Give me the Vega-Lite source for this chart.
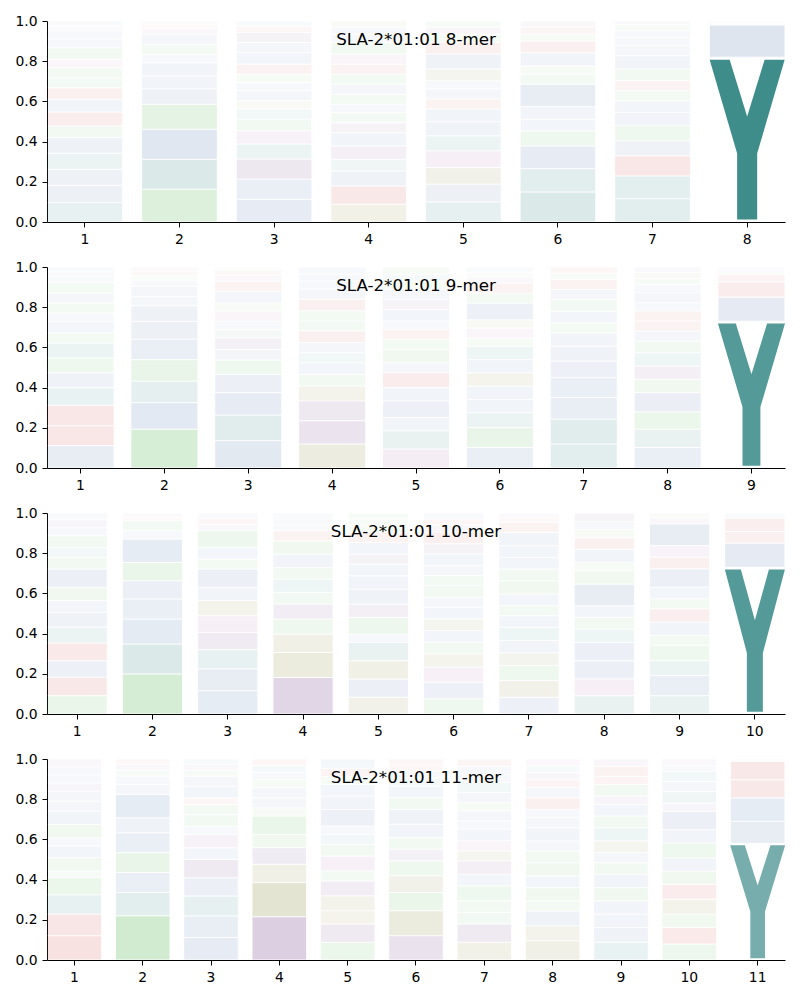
{
"$schema": "https://vega.github.io/schema/vega-lite/v6.json",
"background": "white",
"padding": {"left": 14, "top": 14, "right": 5, "bottom": 5},
"config": {
  "view": {"stroke": null},
  "font": "DejaVu Sans",
  "axis": {"domainColor": "#000", "tickColor": "#000", "labelColor": "#000", "labelFontSize": 13.9, "labelFont": "DejaVu Sans", "tickSize": 5, "labelPadding": 5, "grid": false, "domainWidth": 1, "tickWidth": 1},
  "title": {"fontSize": 16.7, "font": "DejaVu Sans", "fontWeight": "normal", "color": "#000", "anchor": "middle", "frame": "group", "offset": -35, "baseline": "alphabetic"}
},
"bounds": "flush",
"spacing": 45,
"data": {"values": [
{"p":1,"x":1,"a":"Y","h":0.096},{"p":1,"x":1,"a":"M","h":0.086},{"p":1,"x":1,"a":"F","h":0.08},{"p":1,"x":1,"a":"H","h":0.08},{"p":1,"x":1,"a":"I","h":0.078},{"p":1,"x":1,"a":"T","h":0.058},{"p":1,"x":1,"a":"R","h":0.069},{"p":1,"x":1,"a":"V","h":0.063},{"p":1,"x":1,"a":"K","h":0.058},{"p":1,"x":1,"a":"Q","h":0.05},{"p":1,"x":1,"a":"S","h":0.05},{"p":1,"x":1,"a":"C","h":0.042},{"p":1,"x":1,"a":"N","h":0.057},{"p":1,"x":1,"a":"A","h":0.043},{"p":1,"x":1,"a":"L","h":0.04},{"p":1,"x":1,"a":"E","h":0.025},{"p":1,"x":1,"a":"W","h":0.025},
{"p":1,"x":2,"a":"T","h":0.163},{"p":1,"x":2,"a":"Y","h":0.149},{"p":1,"x":2,"a":"F","h":0.149},{"p":1,"x":2,"a":"S","h":0.124},{"p":1,"x":2,"a":"M","h":0.078},{"p":1,"x":2,"a":"V","h":0.063},{"p":1,"x":2,"a":"A","h":0.066},{"p":1,"x":2,"a":"I","h":0.041},{"p":1,"x":2,"a":"Q","h":0.05},{"p":1,"x":2,"a":"W","h":0.05},{"p":1,"x":2,"a":"E","h":0.03},{"p":1,"x":2,"a":"K","h":0.02},{"p":1,"x":2,"a":"L","h":0.017},
{"p":1,"x":3,"a":"W","h":0.113},{"p":1,"x":3,"a":"F","h":0.1},{"p":1,"x":3,"a":"D","h":0.1},{"p":1,"x":3,"a":"Y","h":0.075},{"p":1,"x":3,"a":"C","h":0.066},{"p":1,"x":3,"a":"N","h":0.058},{"p":1,"x":3,"a":"H","h":0.05},{"p":1,"x":3,"a":"G","h":0.041},{"p":1,"x":3,"a":"A","h":0.05},{"p":1,"x":3,"a":"I","h":0.041},{"p":1,"x":3,"a":"S","h":0.041},{"p":1,"x":3,"a":"R","h":0.05},{"p":1,"x":3,"a":"M","h":0.058},{"p":1,"x":3,"a":"V","h":0.05},{"p":1,"x":3,"a":"E","h":0.05},{"p":1,"x":3,"a":"K","h":0.03},{"p":1,"x":3,"a":"L","h":0.027},
{"p":1,"x":4,"a":"P","h":0.088},{"p":1,"x":4,"a":"K","h":0.091},{"p":1,"x":4,"a":"V","h":0.075},{"p":1,"x":4,"a":"H","h":0.058},{"p":1,"x":4,"a":"E","h":0.066},{"p":1,"x":4,"a":"I","h":0.066},{"p":1,"x":4,"a":"D","h":0.05},{"p":1,"x":4,"a":"T","h":0.05},{"p":1,"x":4,"a":"L","h":0.041},{"p":1,"x":4,"a":"N","h":0.05},{"p":1,"x":4,"a":"W","h":0.05},{"p":1,"x":4,"a":"Q","h":0.05},{"p":1,"x":4,"a":"R","h":0.05},{"p":1,"x":4,"a":"C","h":0.05},{"p":1,"x":4,"a":"S","h":0.058},{"p":1,"x":4,"a":"M","h":0.04},{"p":1,"x":4,"a":"A","h":0.035},{"p":1,"x":4,"a":"G","h":0.032},
{"p":1,"x":5,"a":"H","h":0.1},{"p":1,"x":5,"a":"F","h":0.088},{"p":1,"x":5,"a":"P","h":0.083},{"p":1,"x":5,"a":"C","h":0.083},{"p":1,"x":5,"a":"Y","h":0.075},{"p":1,"x":5,"a":"W","h":0.07},{"p":1,"x":5,"a":"V","h":0.063},{"p":1,"x":5,"a":"R","h":0.05},{"p":1,"x":5,"a":"I","h":0.05},{"p":1,"x":5,"a":"L","h":0.041},{"p":1,"x":5,"a":"G","h":0.058},{"p":1,"x":5,"a":"A","h":0.075},{"p":1,"x":5,"a":"K","h":0.058},{"p":1,"x":5,"a":"S","h":0.04},{"p":1,"x":5,"a":"E","h":0.035},{"p":1,"x":5,"a":"Q","h":0.031},
{"p":1,"x":6,"a":"H","h":0.149},{"p":1,"x":6,"a":"Y","h":0.116},{"p":1,"x":6,"a":"F","h":0.113},{"p":1,"x":6,"a":"Q","h":0.075},{"p":1,"x":6,"a":"W","h":0.058},{"p":1,"x":6,"a":"I","h":0.063},{"p":1,"x":6,"a":"M","h":0.111},{"p":1,"x":6,"a":"T","h":0.05},{"p":1,"x":6,"a":"N","h":0.041},{"p":1,"x":6,"a":"V","h":0.066},{"p":1,"x":6,"a":"R","h":0.058},{"p":1,"x":6,"a":"S","h":0.035},{"p":1,"x":6,"a":"K","h":0.035},{"p":1,"x":6,"a":"D","h":0.03},
{"p":1,"x":7,"a":"Y","h":0.116},{"p":1,"x":7,"a":"H","h":0.113},{"p":1,"x":7,"a":"K","h":0.1},{"p":1,"x":7,"a":"F","h":0.075},{"p":1,"x":7,"a":"Q","h":0.075},{"p":1,"x":7,"a":"L","h":0.066},{"p":1,"x":7,"a":"I","h":0.058},{"p":1,"x":7,"a":"T","h":0.05},{"p":1,"x":7,"a":"R","h":0.05},{"p":1,"x":7,"a":"N","h":0.058},{"p":1,"x":7,"a":"A","h":0.066},{"p":1,"x":7,"a":"M","h":0.05},{"p":1,"x":7,"a":"V","h":0.04},{"p":1,"x":7,"a":"W","h":0.035},{"p":1,"x":7,"a":"S","h":0.03},{"p":1,"x":7,"a":"D","h":0.018},
{"p":1,"x":8,"a":"Y","h":0.82},{"p":1,"x":8,"a":"F","h":0.16},{"p":1,"x":8,"a":"W","h":0.01},{"p":1,"x":8,"a":"M","h":0.01},
{"p":2,"x":1,"a":"M","h":0.111},{"p":2,"x":1,"a":"R","h":0.099},{"p":2,"x":1,"a":"K","h":0.102},{"p":2,"x":1,"a":"Y","h":0.088},{"p":2,"x":1,"a":"F","h":0.074},{"p":2,"x":1,"a":"S","h":0.074},{"p":2,"x":1,"a":"H","h":0.074},{"p":2,"x":1,"a":"T","h":0.05},{"p":2,"x":1,"a":"V","h":0.058},{"p":2,"x":1,"a":"I","h":0.041},{"p":2,"x":1,"a":"Q","h":0.05},{"p":2,"x":1,"a":"A","h":0.05},{"p":2,"x":1,"a":"N","h":0.05},{"p":2,"x":1,"a":"L","h":0.03},{"p":2,"x":1,"a":"E","h":0.025},{"p":2,"x":1,"a":"W","h":0.024},
{"p":2,"x":2,"a":"T","h":0.193},{"p":2,"x":2,"a":"M","h":0.132},{"p":2,"x":2,"a":"Y","h":0.107},{"p":2,"x":2,"a":"S","h":0.107},{"p":2,"x":2,"a":"F","h":0.102},{"p":2,"x":2,"a":"A","h":0.088},{"p":2,"x":2,"a":"V","h":0.078},{"p":2,"x":2,"a":"I","h":0.046},{"p":2,"x":2,"a":"W","h":0.05},{"p":2,"x":2,"a":"L","h":0.03},{"p":2,"x":2,"a":"Q","h":0.025},{"p":2,"x":2,"a":"K","h":0.022},{"p":2,"x":2,"a":"E","h":0.02},
{"p":2,"x":3,"a":"F","h":0.136},{"p":2,"x":3,"a":"Y","h":0.127},{"p":2,"x":3,"a":"M","h":0.112},{"p":2,"x":3,"a":"W","h":0.091},{"p":2,"x":3,"a":"N","h":0.071},{"p":2,"x":3,"a":"I","h":0.053},{"p":2,"x":3,"a":"D","h":0.058},{"p":2,"x":3,"a":"H","h":0.041},{"p":2,"x":3,"a":"L","h":0.041},{"p":2,"x":3,"a":"C","h":0.05},{"p":2,"x":3,"a":"Q","h":0.041},{"p":2,"x":3,"a":"V","h":0.058},{"p":2,"x":3,"a":"R","h":0.05},{"p":2,"x":3,"a":"E","h":0.03},{"p":2,"x":3,"a":"K","h":0.025},{"p":2,"x":3,"a":"S","h":0.016},
{"p":2,"x":4,"a":"P","h":0.119},{"p":2,"x":4,"a":"D","h":0.116},{"p":2,"x":4,"a":"E","h":0.099},{"p":2,"x":4,"a":"G","h":0.074},{"p":2,"x":4,"a":"S","h":0.058},{"p":2,"x":4,"a":"A","h":0.058},{"p":2,"x":4,"a":"H","h":0.05},{"p":2,"x":4,"a":"L","h":0.05},{"p":2,"x":4,"a":"K","h":0.058},{"p":2,"x":4,"a":"T","h":0.05},{"p":2,"x":4,"a":"Q","h":0.05},{"p":2,"x":4,"a":"R","h":0.058},{"p":2,"x":4,"a":"M","h":0.05},{"p":2,"x":4,"a":"V","h":0.04},{"p":2,"x":4,"a":"W","h":0.035},{"p":2,"x":4,"a":"I","h":0.035},
{"p":2,"x":5,"a":"C","h":0.094},{"p":2,"x":5,"a":"H","h":0.091},{"p":2,"x":5,"a":"I","h":0.066},{"p":2,"x":5,"a":"W","h":0.083},{"p":2,"x":5,"a":"L","h":0.066},{"p":2,"x":5,"a":"K","h":0.074},{"p":2,"x":5,"a":"V","h":0.05},{"p":2,"x":5,"a":"N","h":0.066},{"p":2,"x":5,"a":"S","h":0.05},{"p":2,"x":5,"a":"R","h":0.05},{"p":2,"x":5,"a":"M","h":0.041},{"p":2,"x":5,"a":"A","h":0.058},{"p":2,"x":5,"a":"D","h":0.05},{"p":2,"x":5,"a":"F","h":0.05},{"p":2,"x":5,"a":"T","h":0.04},{"p":2,"x":5,"a":"Y","h":0.035},{"p":2,"x":5,"a":"Q","h":0.036},
{"p":2,"x":6,"a":"F","h":0.102},{"p":2,"x":6,"a":"T","h":0.099},{"p":2,"x":6,"a":"Y","h":0.074},{"p":2,"x":6,"a":"V","h":0.066},{"p":2,"x":6,"a":"I","h":0.066},{"p":2,"x":6,"a":"P","h":0.066},{"p":2,"x":6,"a":"L","h":0.066},{"p":2,"x":6,"a":"H","h":0.066},{"p":2,"x":6,"a":"N","h":0.041},{"p":2,"x":6,"a":"C","h":0.05},{"p":2,"x":6,"a":"G","h":0.041},{"p":2,"x":6,"a":"M","h":0.083},{"p":2,"x":6,"a":"Q","h":0.05},{"p":2,"x":6,"a":"K","h":0.05},{"p":2,"x":6,"a":"E","h":0.03},{"p":2,"x":6,"a":"S","h":0.025},{"p":2,"x":6,"a":"W","h":0.025},
{"p":2,"x":7,"a":"H","h":0.119},{"p":2,"x":7,"a":"Y","h":0.124},{"p":2,"x":7,"a":"F","h":0.107},{"p":2,"x":7,"a":"W","h":0.099},{"p":2,"x":7,"a":"L","h":0.083},{"p":2,"x":7,"a":"M","h":0.074},{"p":2,"x":7,"a":"I","h":0.066},{"p":2,"x":7,"a":"T","h":0.05},{"p":2,"x":7,"a":"V","h":0.058},{"p":2,"x":7,"a":"Q","h":0.058},{"p":2,"x":7,"a":"A","h":0.05},{"p":2,"x":7,"a":"R","h":0.05},{"p":2,"x":7,"a":"S","h":0.03},{"p":2,"x":7,"a":"K","h":0.032},
{"p":2,"x":8,"a":"L","h":0.102},{"p":2,"x":8,"a":"Y","h":0.091},{"p":2,"x":8,"a":"T","h":0.086},{"p":2,"x":8,"a":"F","h":0.096},{"p":2,"x":8,"a":"S","h":0.066},{"p":2,"x":8,"a":"E","h":0.066},{"p":2,"x":8,"a":"H","h":0.066},{"p":2,"x":8,"a":"Q","h":0.058},{"p":2,"x":8,"a":"A","h":0.05},{"p":2,"x":8,"a":"K","h":0.05},{"p":2,"x":8,"a":"R","h":0.05},{"p":2,"x":8,"a":"I","h":0.041},{"p":2,"x":8,"a":"W","h":0.05},{"p":2,"x":8,"a":"M","h":0.041},{"p":2,"x":8,"a":"N","h":0.03},{"p":2,"x":8,"a":"G","h":0.03},{"p":2,"x":8,"a":"D","h":0.027},
{"p":2,"x":9,"a":"Y","h":0.73},{"p":2,"x":9,"a":"F","h":0.12},{"p":2,"x":9,"a":"R","h":0.075},{"p":2,"x":9,"a":"K","h":0.04},{"p":2,"x":9,"a":"M","h":0.02},{"p":2,"x":9,"a":"L","h":0.015},
{"p":3,"x":1,"a":"S","h":0.091},{"p":3,"x":1,"a":"K","h":0.091},{"p":3,"x":1,"a":"F","h":0.083},{"p":3,"x":1,"a":"R","h":0.088},{"p":3,"x":1,"a":"H","h":0.078},{"p":3,"x":1,"a":"M","h":0.075},{"p":3,"x":1,"a":"I","h":0.058},{"p":3,"x":1,"a":"Q","h":0.066},{"p":3,"x":1,"a":"V","h":0.091},{"p":3,"x":1,"a":"T","h":0.058},{"p":3,"x":1,"a":"Y","h":0.05},{"p":3,"x":1,"a":"N","h":0.058},{"p":3,"x":1,"a":"L","h":0.04},{"p":3,"x":1,"a":"E","h":0.04},{"p":3,"x":1,"a":"W","h":0.033},
{"p":3,"x":2,"a":"T","h":0.199},{"p":3,"x":2,"a":"Y","h":0.149},{"p":3,"x":2,"a":"F","h":0.124},{"p":3,"x":2,"a":"M","h":0.1},{"p":3,"x":2,"a":"W","h":0.091},{"p":3,"x":2,"a":"S","h":0.091},{"p":3,"x":2,"a":"A","h":0.116},{"p":3,"x":2,"a":"I","h":0.041},{"p":3,"x":2,"a":"Q","h":0.05},{"p":3,"x":2,"a":"K","h":0.02},{"p":3,"x":2,"a":"E","h":0.019},
{"p":3,"x":3,"a":"F","h":0.116},{"p":3,"x":3,"a":"M","h":0.108},{"p":3,"x":3,"a":"Y","h":0.096},{"p":3,"x":3,"a":"D","h":0.086},{"p":3,"x":3,"a":"C","h":0.083},{"p":3,"x":3,"a":"P","h":0.075},{"p":3,"x":3,"a":"I","h":0.066},{"p":3,"x":3,"a":"W","h":0.091},{"p":3,"x":3,"a":"S","h":0.05},{"p":3,"x":3,"a":"V","h":0.058},{"p":3,"x":3,"a":"N","h":0.083},{"p":3,"x":3,"a":"E","h":0.03},{"p":3,"x":3,"a":"R","h":0.03},{"p":3,"x":3,"a":"L","h":0.028},
{"p":3,"x":4,"a":"D","h":0.182},{"p":3,"x":4,"a":"P","h":0.124},{"p":3,"x":4,"a":"G","h":0.091},{"p":3,"x":4,"a":"N","h":0.075},{"p":3,"x":4,"a":"E","h":0.075},{"p":3,"x":4,"a":"S","h":0.058},{"p":3,"x":4,"a":"H","h":0.066},{"p":3,"x":4,"a":"Q","h":0.058},{"p":3,"x":4,"a":"A","h":0.066},{"p":3,"x":4,"a":"T","h":0.066},{"p":3,"x":4,"a":"K","h":0.05},{"p":3,"x":4,"a":"L","h":0.03},{"p":3,"x":4,"a":"V","h":0.03},{"p":3,"x":4,"a":"M","h":0.029},
{"p":3,"x":5,"a":"P","h":0.083},{"p":3,"x":5,"a":"F","h":0.091},{"p":3,"x":5,"a":"G","h":0.091},{"p":3,"x":5,"a":"H","h":0.091},{"p":3,"x":5,"a":"A","h":0.041},{"p":3,"x":5,"a":"N","h":0.083},{"p":3,"x":5,"a":"E","h":0.066},{"p":3,"x":5,"a":"W","h":0.075},{"p":3,"x":5,"a":"V","h":0.066},{"p":3,"x":5,"a":"M","h":0.058},{"p":3,"x":5,"a":"D","h":0.05},{"p":3,"x":5,"a":"I","h":0.058},{"p":3,"x":5,"a":"R","h":0.05},{"p":3,"x":5,"a":"S","h":0.035},{"p":3,"x":5,"a":"T","h":0.032},{"p":3,"x":5,"a":"Q","h":0.03},
{"p":3,"x":6,"a":"T","h":0.075},{"p":3,"x":6,"a":"I","h":0.083},{"p":3,"x":6,"a":"C","h":0.075},{"p":3,"x":6,"a":"G","h":0.066},{"p":3,"x":6,"a":"N","h":0.058},{"p":3,"x":6,"a":"V","h":0.058},{"p":3,"x":6,"a":"P","h":0.058},{"p":3,"x":6,"a":"W","h":0.058},{"p":3,"x":6,"a":"F","h":0.05},{"p":3,"x":6,"a":"Q","h":0.058},{"p":3,"x":6,"a":"S","h":0.05},{"p":3,"x":6,"a":"L","h":0.05},{"p":3,"x":6,"a":"M","h":0.058},{"p":3,"x":6,"a":"E","h":0.05},{"p":3,"x":6,"a":"R","h":0.058},{"p":3,"x":6,"a":"D","h":0.035},{"p":3,"x":6,"a":"K","h":0.03},{"p":3,"x":6,"a":"A","h":0.03},
{"p":3,"x":7,"a":"F","h":0.083},{"p":3,"x":7,"a":"G","h":0.083},{"p":3,"x":7,"a":"N","h":0.075},{"p":3,"x":7,"a":"P","h":0.063},{"p":3,"x":7,"a":"L","h":0.061},{"p":3,"x":7,"a":"H","h":0.066},{"p":3,"x":7,"a":"I","h":0.058},{"p":3,"x":7,"a":"T","h":0.05},{"p":3,"x":7,"a":"M","h":0.058},{"p":3,"x":7,"a":"Q","h":0.066},{"p":3,"x":7,"a":"S","h":0.058},{"p":3,"x":7,"a":"W","h":0.058},{"p":3,"x":7,"a":"A","h":0.058},{"p":3,"x":7,"a":"V","h":0.066},{"p":3,"x":7,"a":"R","h":0.05},{"p":3,"x":7,"a":"K","h":0.025},{"p":3,"x":7,"a":"E","h":0.022},
{"p":3,"x":8,"a":"H","h":0.091},{"p":3,"x":8,"a":"C","h":0.083},{"p":3,"x":8,"a":"W","h":0.091},{"p":3,"x":8,"a":"F","h":0.091},{"p":3,"x":8,"a":"Y","h":0.066},{"p":3,"x":8,"a":"T","h":0.058},{"p":3,"x":8,"a":"L","h":0.058},{"p":3,"x":8,"a":"A","h":0.108},{"p":3,"x":8,"a":"S","h":0.066},{"p":3,"x":8,"a":"N","h":0.041},{"p":3,"x":8,"a":"M","h":0.066},{"p":3,"x":8,"a":"K","h":0.058},{"p":3,"x":8,"a":"Q","h":0.04},{"p":3,"x":8,"a":"V","h":0.04},{"p":3,"x":8,"a":"E","h":0.043},
{"p":3,"x":9,"a":"Y","h":0.091},{"p":3,"x":9,"a":"F","h":0.1},{"p":3,"x":9,"a":"H","h":0.075},{"p":3,"x":9,"a":"Q","h":0.075},{"p":3,"x":9,"a":"T","h":0.05},{"p":3,"x":9,"a":"L","h":0.066},{"p":3,"x":9,"a":"K","h":0.066},{"p":3,"x":9,"a":"N","h":0.05},{"p":3,"x":9,"a":"I","h":0.058},{"p":3,"x":9,"a":"W","h":0.091},{"p":3,"x":9,"a":"R","h":0.058},{"p":3,"x":9,"a":"C","h":0.058},{"p":3,"x":9,"a":"A","h":0.108},{"p":3,"x":9,"a":"E","h":0.03},{"p":3,"x":9,"a":"G","h":0.024},
{"p":3,"x":10,"a":"Y","h":0.73},{"p":3,"x":10,"a":"F","h":0.12},{"p":3,"x":10,"a":"R","h":0.058},{"p":3,"x":10,"a":"K","h":0.066},{"p":3,"x":10,"a":"M","h":0.026},
{"p":4,"x":1,"a":"R","h":0.121},{"p":4,"x":1,"a":"K","h":0.107},{"p":4,"x":1,"a":"H","h":0.096},{"p":4,"x":1,"a":"S","h":0.086},{"p":4,"x":1,"a":"T","h":0.033},{"p":4,"x":1,"a":"N","h":0.066},{"p":4,"x":1,"a":"M","h":0.058},{"p":4,"x":1,"a":"A","h":0.041},{"p":4,"x":1,"a":"Q","h":0.066},{"p":4,"x":1,"a":"V","h":0.066},{"p":4,"x":1,"a":"L","h":0.05},{"p":4,"x":1,"a":"I","h":0.05},{"p":4,"x":1,"a":"E","h":0.041},{"p":4,"x":1,"a":"F","h":0.04},{"p":4,"x":1,"a":"W","h":0.04},{"p":4,"x":1,"a":"C","h":0.039},
{"p":4,"x":2,"a":"T","h":0.22},{"p":4,"x":2,"a":"Y","h":0.116},{"p":4,"x":2,"a":"V","h":0.099},{"p":4,"x":2,"a":"S","h":0.099},{"p":4,"x":2,"a":"F","h":0.099},{"p":4,"x":2,"a":"A","h":0.074},{"p":4,"x":2,"a":"W","h":0.116},{"p":4,"x":2,"a":"I","h":0.05},{"p":4,"x":2,"a":"L","h":0.041},{"p":4,"x":2,"a":"Q","h":0.03},{"p":4,"x":2,"a":"E","h":0.03},{"p":4,"x":2,"a":"K","h":0.026},
{"p":4,"x":3,"a":"F","h":0.112},{"p":4,"x":3,"a":"W","h":0.107},{"p":4,"x":3,"a":"Y","h":0.099},{"p":4,"x":3,"a":"M","h":0.091},{"p":4,"x":3,"a":"D","h":0.091},{"p":4,"x":3,"a":"I","h":0.058},{"p":4,"x":3,"a":"C","h":0.066},{"p":4,"x":3,"a":"L","h":0.041},{"p":4,"x":3,"a":"N","h":0.058},{"p":4,"x":3,"a":"Q","h":0.05},{"p":4,"x":3,"a":"R","h":0.033},{"p":4,"x":3,"a":"V","h":0.058},{"p":4,"x":3,"a":"A","h":0.05},{"p":4,"x":3,"a":"S","h":0.03},{"p":4,"x":3,"a":"E","h":0.03},{"p":4,"x":3,"a":"H","h":0.026},
{"p":4,"x":4,"a":"D","h":0.215},{"p":4,"x":4,"a":"P","h":0.17},{"p":4,"x":4,"a":"G","h":0.091},{"p":4,"x":4,"a":"E","h":0.083},{"p":4,"x":4,"a":"S","h":0.066},{"p":4,"x":4,"a":"N","h":0.091},{"p":4,"x":4,"a":"T","h":0.041},{"p":4,"x":4,"a":"A","h":0.05},{"p":4,"x":4,"a":"V","h":0.05},{"p":4,"x":4,"a":"Q","h":0.04},{"p":4,"x":4,"a":"L","h":0.035},{"p":4,"x":4,"a":"H","h":0.035},{"p":4,"x":4,"a":"R","h":0.033},
{"p":4,"x":5,"a":"N","h":0.088},{"p":4,"x":5,"a":"D","h":0.091},{"p":4,"x":5,"a":"P","h":0.066},{"p":4,"x":5,"a":"G","h":0.074},{"p":4,"x":5,"a":"E","h":0.074},{"p":4,"x":5,"a":"S","h":0.05},{"p":4,"x":5,"a":"C","h":0.074},{"p":4,"x":5,"a":"Q","h":0.058},{"p":4,"x":5,"a":"H","h":0.05},{"p":4,"x":5,"a":"F","h":0.041},{"p":4,"x":5,"a":"A","h":0.083},{"p":4,"x":5,"a":"V","h":0.066},{"p":4,"x":5,"a":"M","h":0.058},{"p":4,"x":5,"a":"T","h":0.04},{"p":4,"x":5,"a":"K","h":0.04},{"p":4,"x":5,"a":"W","h":0.047},
{"p":4,"x":6,"a":"D","h":0.121},{"p":4,"x":6,"a":"G","h":0.124},{"p":4,"x":6,"a":"S","h":0.091},{"p":4,"x":6,"a":"P","h":0.083},{"p":4,"x":6,"a":"T","h":0.074},{"p":4,"x":6,"a":"E","h":0.058},{"p":4,"x":6,"a":"N","h":0.058},{"p":4,"x":6,"a":"I","h":0.066},{"p":4,"x":6,"a":"A","h":0.074},{"p":4,"x":6,"a":"Q","h":0.058},{"p":4,"x":6,"a":"W","h":0.058},{"p":4,"x":6,"a":"H","h":0.04},{"p":4,"x":6,"a":"L","h":0.035},{"p":4,"x":6,"a":"R","h":0.03},{"p":4,"x":6,"a":"K","h":0.03},
{"p":4,"x":7,"a":"G","h":0.088},{"p":4,"x":7,"a":"D","h":0.091},{"p":4,"x":7,"a":"Q","h":0.058},{"p":4,"x":7,"a":"S","h":0.058},{"p":4,"x":7,"a":"N","h":0.074},{"p":4,"x":7,"a":"W","h":0.058},{"p":4,"x":7,"a":"E","h":0.066},{"p":4,"x":7,"a":"P","h":0.05},{"p":4,"x":7,"a":"C","h":0.05},{"p":4,"x":7,"a":"V","h":0.058},{"p":4,"x":7,"a":"I","h":0.041},{"p":4,"x":7,"a":"A","h":0.05},{"p":4,"x":7,"a":"T","h":0.041},{"p":4,"x":7,"a":"L","h":0.05},{"p":4,"x":7,"a":"H","h":0.05},{"p":4,"x":7,"a":"M","h":0.04},{"p":4,"x":7,"a":"F","h":0.04},{"p":4,"x":7,"a":"R","h":0.037},
{"p":4,"x":8,"a":"G","h":0.096},{"p":4,"x":8,"a":"P","h":0.074},{"p":4,"x":8,"a":"V","h":0.074},{"p":4,"x":8,"a":"T","h":0.05},{"p":4,"x":8,"a":"S","h":0.066},{"p":4,"x":8,"a":"L","h":0.058},{"p":4,"x":8,"a":"Q","h":0.066},{"p":4,"x":8,"a":"N","h":0.058},{"p":4,"x":8,"a":"I","h":0.05},{"p":4,"x":8,"a":"A","h":0.066},{"p":4,"x":8,"a":"M","h":0.05},{"p":4,"x":8,"a":"F","h":0.041},{"p":4,"x":8,"a":"R","h":0.058},{"p":4,"x":8,"a":"W","h":0.05},{"p":4,"x":8,"a":"K","h":0.04},{"p":4,"x":8,"a":"D","h":0.035},{"p":4,"x":8,"a":"Y","h":0.033},{"p":4,"x":8,"a":"C","h":0.035},
{"p":4,"x":9,"a":"H","h":0.088},{"p":4,"x":9,"a":"M","h":0.074},{"p":4,"x":9,"a":"F","h":0.066},{"p":4,"x":9,"a":"L","h":0.066},{"p":4,"x":9,"a":"N","h":0.066},{"p":4,"x":9,"a":"W","h":0.066},{"p":4,"x":9,"a":"T","h":0.058},{"p":4,"x":9,"a":"I","h":0.05},{"p":4,"x":9,"a":"G","h":0.058},{"p":4,"x":9,"a":"Y","h":0.066},{"p":4,"x":9,"a":"Q","h":0.058},{"p":4,"x":9,"a":"A","h":0.058},{"p":4,"x":9,"a":"E","h":0.041},{"p":4,"x":9,"a":"S","h":0.058},{"p":4,"x":9,"a":"K","h":0.041},{"p":4,"x":9,"a":"R","h":0.05},{"p":4,"x":9,"a":"D","h":0.036},
{"p":4,"x":10,"a":"N","h":0.079},{"p":4,"x":10,"a":"K","h":0.083},{"p":4,"x":10,"a":"T","h":0.066},{"p":4,"x":10,"a":"G","h":0.074},{"p":4,"x":10,"a":"R","h":0.074},{"p":4,"x":10,"a":"Q","h":0.066},{"p":4,"x":10,"a":"L","h":0.066},{"p":4,"x":10,"a":"S","h":0.074},{"p":4,"x":10,"a":"M","h":0.066},{"p":4,"x":10,"a":"V","h":0.091},{"p":4,"x":10,"a":"E","h":0.041},{"p":4,"x":10,"a":"H","h":0.058},{"p":4,"x":10,"a":"F","h":0.05},{"p":4,"x":10,"a":"Y","h":0.05},{"p":4,"x":10,"a":"W","h":0.03},{"p":4,"x":10,"a":"D","h":0.032},
{"p":4,"x":11,"a":"Y","h":0.58},{"p":4,"x":11,"a":"F","h":0.11},{"p":4,"x":11,"a":"W","h":0.116},{"p":4,"x":11,"a":"R","h":0.091},{"p":4,"x":11,"a":"K","h":0.091},{"p":4,"x":11,"a":"M","h":0.012}
]},
"transform": [
  {"window": [{"op": "row_number", "as": "o"}]},
  {"stack": "h", "groupby": ["p", "x"], "sort": [{"field": "o", "order": "ascending"}], "as": ["y0", "y1"]},
  {"calculate": "(datum.y0 + datum.y1) / 2", "as": "mid"}
],
"vconcat": [
 {
  "width": 738, "height": 201,
  "title": {"text": "SLA-2*01:01 8-mer"},
  "transform": [{"filter": "datum.p == 1"}],
  "encoding": {
    "x": {"field": "x", "type": "ordinal", "scale": {"paddingInner": 0.2, "paddingOuter": 0}, "axis": {"title": null, "labelAngle": 0}},
    "color": {"field": "a", "type": "nominal", "legend": null, "scale": {"domain": ["A","V","L","I","M","F","W","S","T","N","Q","K","R","D","E","P","G","Y","H","C"], "range": ["#3864a2","#3864a2","#3864a2","#3864a2","#3864a2","#3864a2","#3864a2","#32a632","#32a632","#32a632","#32a632","#c81414","#c81414","#5c2478","#5c2478","#666600","#666600","#157472","#157472","#9a4a96"]}},
    "opacity": {"field": "h", "type": "quantitative", "legend": null, "scale": {"domain": [0, 1], "range": [0, 1]}}
  },
  "layer": [
    {"transform": [{"filter": "datum.h <= 0.4"}], "mark": {"type": "rect", "stroke": "white", "strokeWidth": 1, "strokeOpacity": 1},
     "encoding": {"y": {"field": "y0", "type": "quantitative", "scale": {"domain": [0, 1]}, "axis": {"title": null, "values": [0, 0.2, 0.4, 0.6, 0.8, 1], "format": ".1f"}}, "y2": {"field": "y1"}}},
    {"transform": [{"filter": "datum.h > 0.4"}], "mark": {"type": "point", "filled": true, "strokeWidth": 0, "shape": "M-0.455,-0.97L-0.212,-0.97L0,-0.279L0.212,-0.97L0.455,-0.97L0.1215,0.17L0.1215,0.97L-0.1215,0.97L-0.1215,0.17Z"},
     "encoding": {"y": {"field": "mid", "type": "quantitative"}, "size": {"field": "h", "type": "quantitative", "legend": null, "scale": {"type": "pow", "exponent": 2, "domain": [0, 1], "range": [0, 40401]}}}}
  ]
 },
 {
  "width": 738, "height": 201,
  "title": {"text": "SLA-2*01:01 9-mer"},
  "transform": [{"filter": "datum.p == 2"}],
  "encoding": {
    "x": {"field": "x", "type": "ordinal", "scale": {"paddingInner": 0.2, "paddingOuter": 0}, "axis": {"title": null, "labelAngle": 0}},
    "color": {"field": "a", "type": "nominal", "legend": null, "scale": {"domain": ["A","V","L","I","M","F","W","S","T","N","Q","K","R","D","E","P","G","Y","H","C"], "range": ["#3864a2","#3864a2","#3864a2","#3864a2","#3864a2","#3864a2","#3864a2","#32a632","#32a632","#32a632","#32a632","#c81414","#c81414","#5c2478","#5c2478","#666600","#666600","#157472","#157472","#9a4a96"]}},
    "opacity": {"field": "h", "type": "quantitative", "legend": null, "scale": {"domain": [0, 1], "range": [0, 1]}}
  },
  "layer": [
    {"transform": [{"filter": "datum.h <= 0.4"}], "mark": {"type": "rect", "stroke": "white", "strokeWidth": 1, "strokeOpacity": 1},
     "encoding": {"y": {"field": "y0", "type": "quantitative", "scale": {"domain": [0, 1]}, "axis": {"title": null, "values": [0, 0.2, 0.4, 0.6, 0.8, 1], "format": ".1f"}}, "y2": {"field": "y1"}}},
    {"transform": [{"filter": "datum.h > 0.4"}], "mark": {"type": "point", "filled": true, "strokeWidth": 0, "shape": "M-0.457,-0.97L-0.213,-0.97L0,-0.279L0.213,-0.97L0.457,-0.97L0.122,0.17L0.122,0.97L-0.122,0.97L-0.122,0.17Z"},
     "encoding": {"y": {"field": "mid", "type": "quantitative"}, "size": {"field": "h", "type": "quantitative", "legend": null, "scale": {"type": "pow", "exponent": 2, "domain": [0, 1], "range": [0, 40401]}}}}
  ]
 },
 {
  "width": 738, "height": 201,
  "title": {"text": "SLA-2*01:01 10-mer"},
  "transform": [{"filter": "datum.p == 3"}],
  "encoding": {
    "x": {"field": "x", "type": "ordinal", "scale": {"paddingInner": 0.2, "paddingOuter": 0}, "axis": {"title": null, "labelAngle": 0}},
    "color": {"field": "a", "type": "nominal", "legend": null, "scale": {"domain": ["A","V","L","I","M","F","W","S","T","N","Q","K","R","D","E","P","G","Y","H","C"], "range": ["#3864a2","#3864a2","#3864a2","#3864a2","#3864a2","#3864a2","#3864a2","#32a632","#32a632","#32a632","#32a632","#c81414","#c81414","#5c2478","#5c2478","#666600","#666600","#157472","#157472","#9a4a96"]}},
    "opacity": {"field": "h", "type": "quantitative", "legend": null, "scale": {"domain": [0, 1], "range": [0, 1]}}
  },
  "layer": [
    {"transform": [{"filter": "datum.h <= 0.4"}], "mark": {"type": "rect", "stroke": "white", "strokeWidth": 1, "strokeOpacity": 1},
     "encoding": {"y": {"field": "y0", "type": "quantitative", "scale": {"domain": [0, 1]}, "axis": {"title": null, "values": [0, 0.2, 0.4, 0.6, 0.8, 1], "format": ".1f"}}, "y2": {"field": "y1"}}},
    {"transform": [{"filter": "datum.h > 0.4"}], "mark": {"type": "point", "filled": true, "strokeWidth": 0, "shape": "M-0.409,-0.97L-0.191,-0.97L0,-0.279L0.191,-0.97L0.409,-0.97L0.109,0.17L0.109,0.97L-0.109,0.97L-0.109,0.17Z"},
     "encoding": {"y": {"field": "mid", "type": "quantitative"}, "size": {"field": "h", "type": "quantitative", "legend": null, "scale": {"type": "pow", "exponent": 2, "domain": [0, 1], "range": [0, 40401]}}}}
  ]
 },
 {
  "width": 738, "height": 201,
  "title": {"text": "SLA-2*01:01 11-mer"},
  "transform": [{"filter": "datum.p == 4"}],
  "encoding": {
    "x": {"field": "x", "type": "ordinal", "scale": {"paddingInner": 0.2, "paddingOuter": 0}, "axis": {"title": null, "labelAngle": 0}},
    "color": {"field": "a", "type": "nominal", "legend": null, "scale": {"domain": ["A","V","L","I","M","F","W","S","T","N","Q","K","R","D","E","P","G","Y","H","C"], "range": ["#3864a2","#3864a2","#3864a2","#3864a2","#3864a2","#3864a2","#3864a2","#32a632","#32a632","#32a632","#32a632","#c81414","#c81414","#5c2478","#5c2478","#666600","#666600","#157472","#157472","#9a4a96"]}},
    "opacity": {"field": "h", "type": "quantitative", "legend": null, "scale": {"domain": [0, 1], "range": [0, 1]}}
  },
  "layer": [
    {"transform": [{"filter": "datum.h <= 0.4"}], "mark": {"type": "rect", "stroke": "white", "strokeWidth": 1, "strokeOpacity": 1},
     "encoding": {"y": {"field": "y0", "type": "quantitative", "scale": {"domain": [0, 1]}, "axis": {"title": null, "values": [0, 0.2, 0.4, 0.6, 0.8, 1], "format": ".1f"}}, "y2": {"field": "y1"}}},
    {"transform": [{"filter": "datum.h > 0.4"}], "mark": {"type": "point", "filled": true, "strokeWidth": 0, "shape": "M-0.472,-0.97L-0.22,-0.97L0,-0.279L0.22,-0.97L0.472,-0.97L0.126,0.17L0.126,0.97L-0.126,0.97L-0.126,0.17Z"},
     "encoding": {"y": {"field": "mid", "type": "quantitative"}, "size": {"field": "h", "type": "quantitative", "legend": null, "scale": {"type": "pow", "exponent": 2, "domain": [0, 1], "range": [0, 40401]}}}}
  ]
 }
]
}
